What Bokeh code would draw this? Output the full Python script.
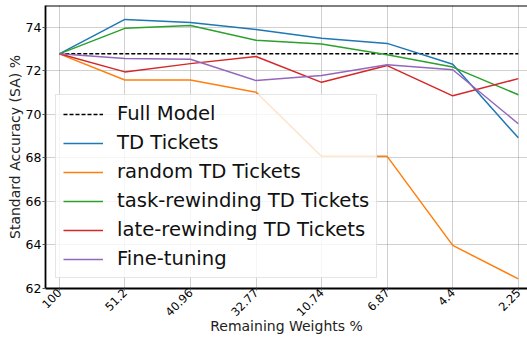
from bokeh.plotting import figure
from bokeh.models import FixedTicker, Span, Legend, LegendItem, Range1d
from bokeh.embed import file_html
from bokeh.resources import INLINE
import math

# Remaining weights (%) at each pruning round
weights = ["100", "51.2", "40.96", "32.77", "10.74", "6.87", "4.4", "2.25"]

full_model = 72.78
td_tickets = [72.78, 74.36, 74.22, 73.90, 73.50, 73.26, 72.30, 68.92]
random_td = [72.78, 71.58, 71.58, 71.02, 68.07, 68.07, 63.98, 62.44]
task_rewind = [72.78, 73.95, 74.08, 73.40, 73.23, 72.74, 72.17, 70.90]
late_rewind = [72.78, 71.95, 72.33, 72.66, 71.47, 72.24, 70.85, 71.64]
fine_tuning = [72.78, 72.56, 72.53, 71.55, 71.78, 72.28, 72.05, 69.57]

y_ticks = [62, 64, 66, 68, 70, 72, 74]

xs = list(range(len(weights)))

FONT = "DejaVu Sans"

p = figure(width=527, height=337, output_backend="svg", toolbar_location=None,
           x_range=Range1d(-0.21, 7.14), y_range=Range1d(62, 75),
           min_border_left=45, min_border_right=0, min_border_top=5,
           min_border_bottom=49)
p.outline_line_color = None
p.background_fill_color = "white"
p.border_fill_color = "white"

# axes
p.xaxis.ticker = FixedTicker(ticks=xs)
p.xaxis.major_label_overrides = {i: w for i, w in enumerate(weights)}
p.xaxis.major_label_orientation = math.pi / 4
p.yaxis.ticker = FixedTicker(ticks=y_ticks)
for ax in (p.xaxis[0], p.yaxis[0]):
    ax.axis_line_color = "black"
    ax.axis_line_width = 1.8
    ax.major_tick_line_color = "#555555"
    ax.major_tick_out = 3
    ax.major_tick_in = 0
    ax.minor_tick_line_color = None
    ax.major_label_text_font = FONT
    ax.major_label_text_color = "black"
    ax.axis_label_text_font = FONT
    ax.axis_label_text_font_style = "normal"
    ax.axis_label_text_font_size = "14px"
    ax.axis_label_text_color = "#222222"
    ax.axis_label_standoff = 0
    ax.major_label_standoff = 1
p.xaxis.major_tick_out = 2
p.xaxis.major_label_standoff = 0
p.xaxis.axis_label_standoff = -5
p.xaxis.major_label_text_font_size = "11.5px"
p.yaxis.major_label_text_font_size = "12.5px"
p.xaxis.axis_label = "Remaining Weights %"
p.yaxis.axis_label = "Standard Accuracy (SA) %"

# dotted grid
for g in (p.xgrid[0], p.ygrid[0]):
    g.grid_line_color = "#a0a0a0"
    g.grid_line_dash = "1 1"
    g.grid_line_width = 1

# top border
p.add_layout(Span(location=75, dimension="width", line_color="black", line_width=1.8))

fm = p.line(xs, [full_model] * len(xs), line_color="black", line_dash="4 2", line_width=1.5)
r1 = p.line(xs, td_tickets, line_color="#1f77b4", line_width=1.5)
r2 = p.line(xs, random_td, line_color="#ff7f0e", line_width=1.5)
r3 = p.line(xs, task_rewind, line_color="#2ca02c", line_width=1.5)
r4 = p.line(xs, late_rewind, line_color="#d62728", line_width=1.5)
r5 = p.line(xs, fine_tuning, line_color="#9467bd", line_width=1.5)

legend = Legend(items=[
    LegendItem(label="Full Model", renderers=[fm]),
    LegendItem(label="TD Tickets", renderers=[r1]),
    LegendItem(label="random TD Tickets", renderers=[r2]),
    LegendItem(label="task-rewinding TD Tickets", renderers=[r3]),
    LegendItem(label="late-rewinding TD Tickets", renderers=[r4]),
    LegendItem(label="Fine-tuning", renderers=[r5]),
], location=(10, 10))
legend.label_text_font = FONT
legend.label_text_font_size = "19.6px"
legend.label_text_color = "#111111"
legend.glyph_width = 40
legend.glyph_height = 20
legend.label_height = 20
legend.label_standoff = 14
legend.spacing = 6
legend.padding = 7
legend.margin = 0
legend.background_fill_color = "white"
legend.background_fill_alpha = 0.8
legend.border_line_color = "#cccccc"
legend.border_line_width = 1
p.add_layout(legend, "center")

open("out.html", "w").write(file_html(p, INLINE))
